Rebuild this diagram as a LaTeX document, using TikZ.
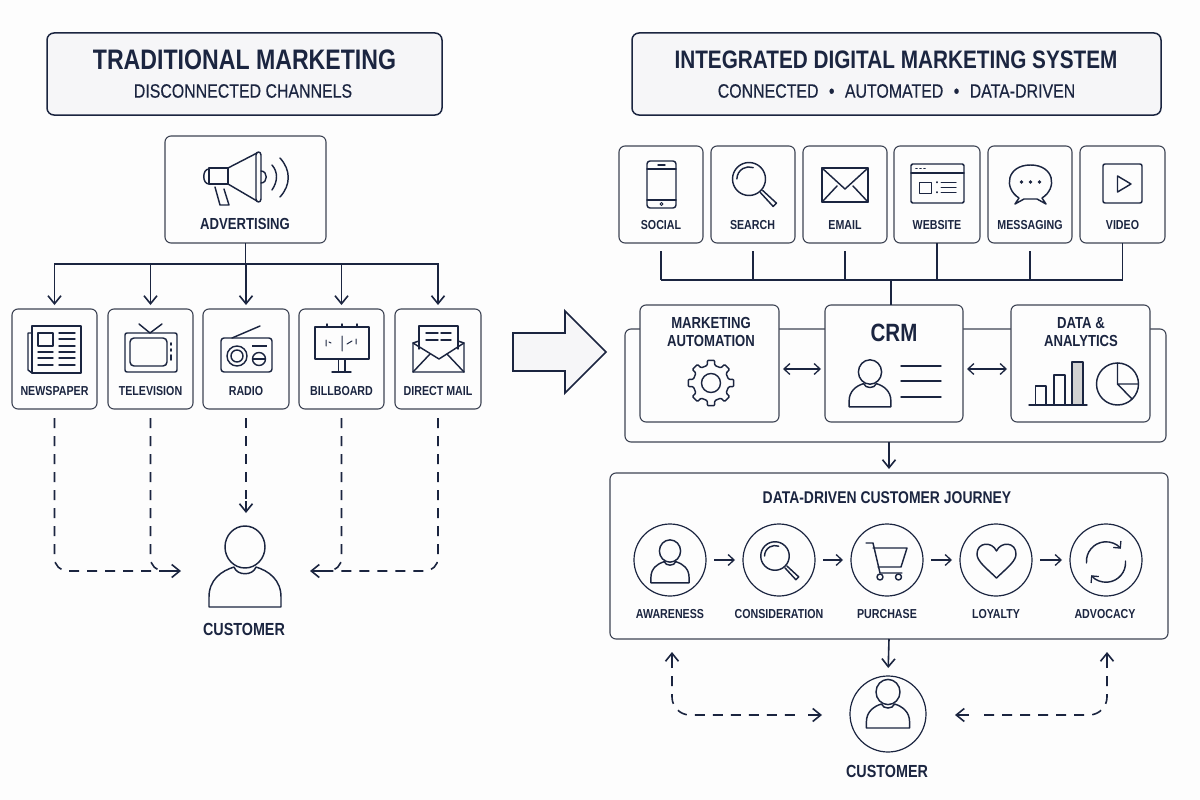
\documentclass[tikz,border=0pt]{standalone}
\usepackage{fontspec}
\usetikzlibrary{arrows.meta,calc}
\setmainfont{Liberation Sans}[FakeStretch=0.82]
\newfontfamily\medfont{Liberation Sans}[FakeStretch=0.82,FakeBold=0.35]
\definecolor{ink}{HTML}{1B2540}
\definecolor{edge}{HTML}{3E4454}
\definecolor{bgc}{HTML}{FDFDFD}
\definecolor{pale}{HTML}{F6F6F8}
\tikzset{
  x=1pt,y=-1pt,
  boxn/.style={draw=edge,line width=1.1pt,rounded corners=6pt,fill=bgc,inner sep=0pt,outer sep=0pt},
  titlebox/.style={boxn,draw=ink,line width=1.5pt,fill=pale,rounded corners=7pt},
  circn/.style={circle,draw=ink,line width=1.2pt,inner sep=0pt,outer sep=0pt},
  ttl/.style={text=ink,font=\fontsize{28.2}{30}\selectfont\bfseries,inner sep=0pt},
  ttlr/.style={text=ink,font=\fontsize{25.3}{30}\selectfont\bfseries,inner sep=0pt},
  sub/.style={text=ink,font=\fontsize{19.4}{24}\medfont,inner sep=0pt},
  lab/.style={text=ink,font=\fontsize{13}{15}\selectfont\bfseries,inner sep=0pt,align=center},
  labb/.style={text=ink,font=\fontsize{16}{18}\selectfont\bfseries,inner sep=0pt,align=center},
  labc/.style={text=ink,font=\fontsize{17.5}{20}\selectfont\bfseries,inner sep=0pt,align=center},
  icon/.style={draw=ink,line width=1.45pt,line join=round,line cap=round},
  conn/.style={draw=ink,line width=1.6pt},
  arr/.style={conn,-{Straight Barb[length=8pt,width=13pt,line width=1.6pt]}},
  arrs/.style={conn,line width=1.3pt,-{Straight Barb[length=6pt,width=11pt,line width=1.3pt]}},
  dbl/.style={conn,line width=1.3pt,{Straight Barb[length=6pt,width=11pt,line width=1.3pt]}-{Straight Barb[length=6pt,width=11pt,line width=1.3pt]}},
  dshb/.style={conn,dash pattern=on 10pt off 8pt,rounded corners=13pt},
}
\newcommand{\mybox}[6][boxn]{\node[#1,minimum width={#5-#3},minimum height={#6-#4}] (#2) at ({(#3+#5)/2},{(#4+#6)/2}) {};}
\newcommand{\personicon}[3]{\begin{scope}[shift={(#1,#2)},scale=#3]
  \draw[icon] (0,0) ellipse [x radius=20,y radius=21];
  \draw[icon] (-36,60) -- (-36,50) .. controls (-36,33) and (-24,24) .. (-11,20) .. controls (-8,29) and (8,29) .. (11,20) .. controls (24,24) and (36,33) .. (36,50) -- (36,60) -- cycle;
\end{scope}}
\newcommand{\lensicon}[3]{\begin{scope}[shift={(#1,#2)},scale=#3]
  \draw[icon] (0,0) circle [radius=15];
  \draw[icon] (-11,0) arc [start angle=180,end angle=290,radius=11];
  \draw[icon] (10.5,12.5) -- (22,25) -- (25,22) -- (12.5,10.5);
\end{scope}}
\begin{document}
\begin{tikzpicture}
\useasboundingbox (0,0) rectangle (1200,800);
\fill[bgc] (0,0) rectangle (1200,800);
% titles
\mybox[titlebox]{tL}{47}{33}{442}{115}
\mybox[titlebox]{tR}{632}{33}{1161}{115}
\node[ttl] (tLa) at (244.5,60) {TRADITIONAL MARKETING};
\node[sub] (tLb) at (243,91) {DISCONNECTED CHANNELS};
\node[ttlr] (tRa) at (896,60) {INTEGRATED DIGITAL MARKETING SYSTEM};
\node[sub] (tRb) at (896.5,91) {CONNECTED\hspace{6pt} • \hspace{6pt}AUTOMATED\hspace{6pt} • \hspace{6pt}DATA-DRIVEN};
% left boxes
\mybox{nAd}{165}{136}{326}{243}
\mybox{nNews}{12}{309}{97}{409}
\mybox{nTv}{108}{309}{193}{409}
\mybox{nRadio}{203}{309}{289}{409}
\mybox{nBill}{299}{309}{384}{409}
\mybox{nMail}{395}{309}{481}{409}
\node[labb] (lAd) at (245,224) {ADVERTISING};
\node[lab] (lNews) at (54.5,391) {NEWSPAPER};
\node[lab] (lTv) at (150.5,391) {TELEVISION};
\node[lab] (lRadio) at (246,391) {RADIO};
\node[lab] (lBill) at (341.5,391) {BILLBOARD};
\node[lab] (lMail) at (438,391) {DIRECT MAIL};
% left connectors
\coordinate (busL) at (246,264);
\draw[conn] (nAd.south) -- (nAd.south |- busL);
\draw[arr,shorten >=4pt] (nRadio.north |- busL) -- (nRadio.north);
\draw[arr,shorten >=4pt] (busL) -| (nNews.north);
\draw[arr,shorten >=4pt] (nTv.north |- busL) -- (nTv.north);
\draw[arr,shorten >=4pt] (nBill.north |- busL) -- (nBill.north);
\draw[arr,shorten >=4pt] (busL) -| (nMail.north);
\coordinate (cTo) at (181,571);
\coordinate (cFrom) at (310,571);
\coordinate (cMid) at (246,513);
\draw[dshb,shorten <=9pt] (nNews.south) |- ($(cTo)+(-12,0)$);
\draw[dshb,shorten <=9pt] (nTv.south) |- ($(cTo)+(-8,0)$);
\draw[arr] ($(cTo)+(-16,0)$) -- (cTo);
\draw[dshb,shorten <=9pt] (nRadio.south) -- ($(cMid)+(0,-14)$);
\draw[arr] ($(cMid)+(0,-12)$) -- (cMid);
\draw[dshb,shorten <=9pt] (nBill.south) |- ($(cFrom)+(10,0)$);
\draw[dshb,shorten <=9pt] (nMail.south) |- ($(cFrom)+(14,0)$);
\draw[arr] ($(cFrom)+(16,0)$) -- (cFrom);
\personicon{245}{547}{1}
\node[labc] (lCustL) at (244,629) {CUSTOMER};
% megaphone
\draw[icon] (228,168) -- (209,168) -- (209,184) -- (228,184) -- cycle;
\draw[icon] (209,169) .. controls (202,169) and (202,184) .. (209,184);
\draw[icon] (228,168) -- (257,153) (228,184) -- (257,201);
\draw[icon] (256,155) .. controls (256,151) and (261,151) .. (261,155) -- (261,199) .. controls (261,203) and (256,203) .. (256,199) -- cycle;
\draw[icon] (261,171) .. controls (268,171) and (268,183) .. (261,183);
\draw[icon] (215,187) -- (220,205) -- (229,205) -- (224,189);
\draw[icon] (272,165) .. controls (278,172) and (278,181) .. (272,190);
\draw[icon] (280,158) .. controls (291,170) and (291,185) .. (280,197);
% newspaper
\draw[icon] (32,326) rectangle (81,373);
\draw[icon] (32,333) -- (28,333) -- (28,370) -- (32,373);
\draw[icon] (38,333) rectangle (53,346);
\foreach \yy in {333,339,346} {\draw[icon] (59,\yy) -- (75,\yy);}
\foreach \yy in {352,358,365} {\draw[icon] (38,\yy) -- (53,\yy) (59,\yy) -- (75,\yy);}
% television
\draw[icon,rounded corners=2pt] (125,333) rectangle (177,372);
\draw[icon,rounded corners=4pt] (130,338) rectangle (167,366);
\draw[icon] (139,324) -- (150,333) -- (162,324);
\draw[icon,line width=1.8pt] (171,343) -- (171,345) (171,349) -- (171,351) (171,355) -- (171,360);
% radio
\draw[icon,rounded corners=3pt] (221,338) rectangle (272,372);
\draw[icon] (232,338) -- (260,326);
\draw[icon] (237,356) circle [radius=10];
\draw[icon] (237,356) circle [radius=6];
\draw[icon] (259,359) circle [radius=6.5];
\draw[icon] (253,359) -- (265,359);
\draw[icon,line width=2.4pt,line cap=butt] (252,346) -- (267,346);
% billboard
\draw[icon] (315,327) rectangle (369,359);
\draw[icon] (327,327) -- (327,324) (342,327) -- (342,324) (357,327) -- (357,324);
\draw[icon] (338.5,359) -- (338.5,372) (345,359) -- (345,372) (332,372) -- (351,372);
\draw[icon,line width=1pt] (342,336) -- (342,351) (326,340) -- (326,346) (329,342) -- (331,343) (347,344) -- (352,341) (356,339) -- (356,344);
% direct mail
\draw[icon] (419,349) -- (419,326) -- (458,326) -- (458,349);
\draw[icon] (426,333) -- (438,333) (441,333) -- (451,333) (426,340) -- (438,340) (441,340) -- (451,340);
\draw[icon] (419,341) -- (413,343) -- (413,372) -- (464,372) -- (464,343) -- (458,341);
\draw[icon] (413,343) -- (439,359) -- (464,343);
\draw[icon] (413,372) -- (430,354) (464,372) -- (447,354);
% big arrow
\path[draw=ink,line width=1.7pt,fill=pale,line join=miter] (513,333) -- (565,333) -- (565,311) -- (606,352) -- (565,393) -- (565,371) -- (513,371) -- cycle;
% right top row
\mybox{nSoc}{619}{146}{703}{243}
\mybox{nSea}{711}{146}{795}{243}
\mybox{nEma}{803}{146}{887}{243}
\mybox{nWeb}{894}{146}{980}{243}
\mybox{nMsg}{988}{146}{1072}{243}
\mybox{nVid}{1080}{146}{1165}{243}
\node[lab] (lSoc) at (661,225) {SOCIAL};
\node[lab] (lSea) at (752.5,225) {SEARCH};
\node[lab] (lEma) at (845,225) {EMAIL};
\node[lab] (lWeb) at (937,225) {WEBSITE};
\node[lab] (lMsg) at (1030,225) {MESSAGING};
\node[lab] (lVid) at (1122.5,225) {VIDEO};
% phone
\draw[icon,rounded corners=3pt] (647,161) rectangle (676,208);
\draw[icon] (647,169) -- (676,169) (647,200) -- (676,200) (658,165) -- (665,165);
\draw[icon,line width=1pt] (661.5,204) circle [radius=1.5];
\lensicon{749}{179}{1.1}
% email
\draw[icon] (822,168) rectangle (868,202);
\draw[icon] (822,168) -- (845,189) -- (868,168);
\draw[icon] (822,202) -- (837,186) (868,202) -- (853,186);
% website
\draw[icon,rounded corners=1.5pt] (911,164) rectangle (964,203);
\draw[icon] (911,173) -- (964,173);
\draw[icon,line width=1.6pt] (916,168.5) -- (917,168.5) (920,168.5) -- (921,168.5) (924,168.5) -- (925,168.5);
\draw[icon,line width=1pt] (919,182) rectangle (931,193);
\draw[icon,line width=1pt] (941,182) -- (956,182) (941,187) -- (956,187) (941,192) -- (956,192);
\draw[icon,line width=1.6pt] (937,182) -- (937,182.5) (937,192) -- (937,192.5);
% messaging
\draw[icon] (1019,198) .. controls (1003,188) and (1007,165) .. (1030.5,165) .. controls (1054,165) and (1058,188) .. (1042,198) -- (1046,204) -- (1037,199) -- (1024,199) -- (1015,204) -- cycle;
\fill[ink] (1021.5,182) circle [radius=1.8] (1030.5,182) circle [radius=1.8] (1039.5,182) circle [radius=1.8];
% video
\draw[icon,rounded corners=2pt] (1103,164) rectangle (1142,203);
\draw[icon] (1117.5,176) -- (1131,184) -- (1117.5,192) -- cycle;
% top-row bus
\coordinate (busR) at (891,280);
\draw[conn,line width=1.5pt] (nSoc.south |- busR) -- (nVid.south |- busR);
\draw[conn,line width=1.3pt,shorten <=8pt] (nSoc.south) -- (nSoc.south |- busR);
\draw[conn,line width=1.3pt,shorten <=8pt] (nSea.south) -- (nSea.south |- busR);
\draw[conn,line width=1.3pt,shorten <=8pt] (nEma.south) -- (nEma.south |- busR);
\draw[conn,line width=1.3pt] (nWeb.south) -- (nWeb.south |- busR);
\draw[conn,line width=1.3pt,shorten <=8pt] (nMsg.south) -- (nMsg.south |- busR);
\draw[conn,line width=1.3pt] (nVid.south) -- (nVid.south |- busR);
% system container
\mybox{nCont}{625}{329}{1166}{442}
\mybox{nAuto}{640}{305}{779}{422}
\mybox{nCrm}{825}{305}{963}{422}
\mybox{nData}{1011}{305}{1150}{422}
\draw[conn,line width=1.3pt] (busR) -- (busR |- nCrm.north);
\node[labb] (lAuto) at (711,332) {MARKETING\\AUTOMATION};
\node[text=ink,font=\fontsize{25}{28}\selectfont\bfseries,inner sep=0pt] (lCrm) at (894,333) {CRM};
\node[labb] (lData) at (1081,332) {DATA \&\\ANALYTICS};
\draw[dbl,shorten <=1pt,shorten >=1pt] ([xshift=3pt]nAuto.east |- 0,369) -- ([xshift=-3pt]nCrm.west |- 0,369);
\draw[dbl,shorten <=1pt,shorten >=1pt] ([xshift=3pt]nCrm.east |- 0,369) -- ([xshift=-3pt]nData.west |- 0,369);
% gear
\begin{scope}[shift={(711,383)}]
\draw[icon,rounded corners=1pt] (-22.5:17.5) foreach \a in {0,45,...,315} { -- (\a-12:18) -- (\a-9:23) -- (\a+9:23) -- (\a+12:18)} -- cycle;
\draw[icon] (0,0) circle [radius=9.5];
\end{scope}
% crm person and lines
\personicon{870}{372}{0.58}
\draw[icon] (901,366) -- (941,366) (901,381) -- (941,381) (901,397) -- (941,397);
% analytics
\draw[icon,fill=gray!35] (1072,405) rectangle (1083,362);
\draw[icon] (1054,405) rectangle (1065,375);
\draw[icon] (1035.5,405) rectangle (1046,386);
\draw[icon] (1029,405) -- (1087,405);
\draw[icon] (1117.5,384) circle [radius=21];
\draw[icon] (1117.5,363) -- (1117.5,384) -- (1138.5,384) (1117.5,384) -- (1132,399);
% journey
\mybox{nJour}{610}{473}{1168}{639}
\draw[arr,shorten >=4pt] (nCont.south -| nJour.north) -- (nJour.north);
\node[text=ink,font=\fontsize{17}{20}\selectfont\bfseries,inner sep=0pt] (lJour) at (887,498) {DATA-DRIVEN CUSTOMER JOURNEY};
\node[circn,minimum size=72pt] (s1) at (670,560) {};
\node[circn,minimum size=72pt] (s2) at (779,560) {};
\node[circn,minimum size=72pt] (s3) at (887,560) {};
\node[circn,minimum size=72pt] (s4) at (996,560) {};
\node[circn,minimum size=72pt] (s5) at (1106,560) {};
\draw[arrs,shorten <=8pt,shorten >=8pt] (s1) -- (s2);
\draw[arrs,shorten <=8pt,shorten >=8pt] (s2) -- (s3);
\draw[arrs,shorten <=8pt,shorten >=8pt] (s3) -- (s4);
\draw[arrs,shorten <=8pt,shorten >=8pt] (s4) -- (s5);
\node[lab] (l1) at (670,614) {AWARENESS};
\node[lab] (l2) at (779,614) {CONSIDERATION};
\node[lab] (l3) at (887,614) {PURCHASE};
\node[lab] (l4) at (996,614) {LOYALTY};
\node[lab] (l5) at (1105,614) {ADVOCACY};
\personicon{670}{551}{0.53}
\lensicon{775}{556}{0.95}
% cart
\draw[icon] (866,543) -- (873,543) -- (880,573) -- (902,573);
\draw[icon] (873,548) -- (907,548) -- (901,567) -- (878,567);
\draw[icon] (880,577) circle [radius=3] (898.5,577) circle [radius=3];
% heart
\draw[icon] (996.5,578) .. controls (985,567) and (977,561) .. (977,554) .. controls (977,542) and (992,541) .. (996.5,551) .. controls (1001,541) and (1016,542) .. (1016,554) .. controls (1016,561) and (1008,567) .. (996.5,578) -- cycle;
% cycle
\draw[icon,-{Straight Barb[length=5pt,width=10pt,line width=1.3pt]}] (1086.5,563) arc [start angle=175,end angle=320,radius=19.5];
\draw[icon,-{Straight Barb[length=5pt,width=10pt,line width=1.3pt]}] (1125.5,561) arc [start angle=-5,end angle=140,radius=19.5];
% customer right
\node[circn,minimum size=76pt] (cR) at (888,714) {};
\personicon{888}{692}{0.6}
\node[labc] (lCustR) at (887,771) {CUSTOMER};
\draw[arr,shorten >=8pt] (nJour.south) -- (cR.north);
\coordinate (dL) at (822,715);
\coordinate (dR) at (955,715);
\coordinate (uL) at (672,652);
\coordinate (uR) at (1107,652);
\draw[arr] ($(uL)+(0,16)$) -- (uL);
\draw[arr] ($(uR)+(0,16)$) -- (uR);
\draw[arr] ($(dL)+(-14,0)$) -- (dL);
\draw[arr] ($(dR)+(14,0)$) -- (dR);
\draw[dshb,rounded corners=18pt] ($(uL)+(0,24)$) |- ($(dL)+(-22,0)$);
\draw[dshb,rounded corners=18pt] ($(uR)+(0,24)$) |- ($(dR)+(22,0)$);
\end{tikzpicture}
\end{document}
